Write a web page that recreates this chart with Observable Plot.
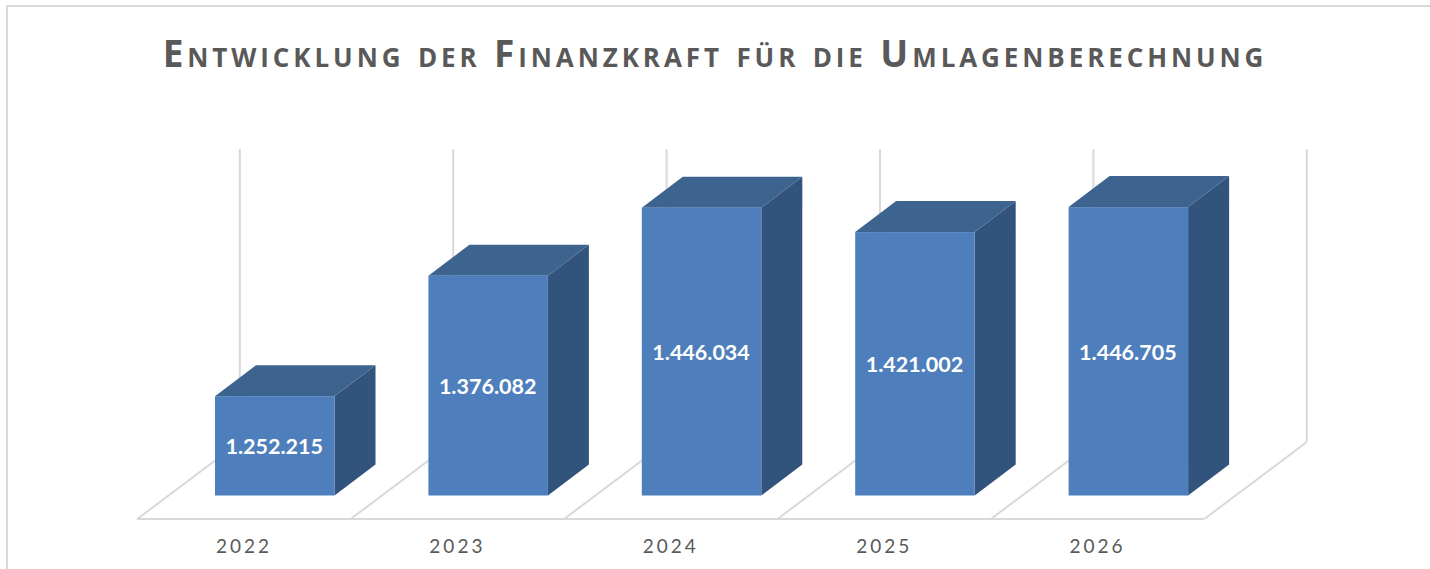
<!DOCTYPE html>
<html lang="de">
<head>
<meta charset="utf-8">
<script src="https://cdn.jsdelivr.net/npm/d3@7"></script>
<script src="https://cdn.jsdelivr.net/npm/@observablehq/plot@0.6"></script>
<style>
html,body{margin:0;padding:0;background:#fff;overflow:hidden}
#frame{position:absolute;left:6px;top:5px;width:1424px;height:564px;border-left:2px solid #d9d9d9;border-top:2px solid #d9d9d9;box-sizing:border-box}
#title{position:absolute;left:0;top:30px;width:1430px;text-align:center;font-family:"Open Sans",sans-serif;font-weight:700;color:#595959;font-size:37px;line-height:46px;white-space:nowrap;letter-spacing:3.9px}
#title .s{font-size:26px}
#chart{position:absolute;left:0;top:120px}
</style>
</head>
<body>
<div id="frame"></div>
<div id="title"></div>
<div id="chart"></div>
<script>
const years = [2022, 2023, 2024, 2025, 2026];
const values = [1252215, 1376082, 1446034, 1421002, 1446705];
const titleWords = ["Entwicklung", "der", "Finanzkraft", "für", "die", "Umlagenberechnung"];

const svgTop = 120, W = 1430, H = 449;
const fmt = d3.formatLocale({decimal: ",", thousands: ".", grouping: [3], currency: ["", ""]}).format(",d");

// title: small capitals built from real text
document.getElementById("title").innerHTML = titleWords.map(w => {
  const first = w[0] === w[0].toUpperCase();
  const up = w.toUpperCase();
  return (first ? up[0] + `<span class="s">${up.slice(1)}</span>` : `<span class="s">${up}</span>`);
}).join(" ");

// scale calibration
const base = 1150000;
const stepPx = 213.4, unitPx = 0.000972;
const x0Year = 2022 - 274.75 / stepPx;
const xDomain = [x0Year, x0Year + W / stepPx];
const yDomain = [base, 1500000];
const yRange = [495.5 - svgTop, 495.5 - svgTop - (1500000 - base) * unitPx];

// 3D offsets in data units
const halfW = 59.75 / stepPx, depthX = 41 / stepPx, depthY = 31 / unitPx;
const floorShift = 31.25 / stepPx;
const floorFront = base - 23 / unitPx;
const floorBack = base + 54 / unitPx;
const floorDX = 102.5 / stepPx;
const wallTop = base + 346.5 / unitPx;

const bars = years.map((year, i) => ({year, value: values[i]}));
const edges = [...years, years[years.length - 1] + 1].map(y => y - 0.5 - floorShift);

const sideData = bars.flatMap(d => [
  {year: d.year, x: d.year + halfW, y1: base, y2: d.value},
  {year: d.year, x: d.year + halfW + depthX, y1: base + depthY, y2: d.value + depthY}
]);
const topData = bars.flatMap(d => [
  {year: d.year, y: d.value, x1: d.year - halfW, x2: d.year + halfW},
  {year: d.year, y: d.value + depthY, x1: d.year - halfW + depthX, x2: d.year + halfW + depthX}
]);

const spaced = (index, scales, values, dimensions, context, next) => {
  const g = next(index, scales, values, dimensions, context);
  g.style.letterSpacing = "3px";
  return g;
};

const grid = "#d9d9d9";
const plot = Plot.plot({
  width: W, height: H,
  marginLeft: 0, marginRight: 0, marginTop: 0, marginBottom: 0,
  x: {type: "linear", domain: xDomain, range: [0, W], axis: null},
  y: {type: "linear", domain: yDomain, range: yRange, axis: null},
  marks: [
    Plot.ruleX(edges, {x: d => d + floorDX, y1: floorBack, y2: wallTop, stroke: grid, strokeWidth: 2}),
    Plot.link(edges, {x1: d => d, y1: floorFront, x2: d => d + floorDX, y2: floorBack, stroke: grid, strokeWidth: 2}),
    Plot.ruleY([floorFront], {x1: edges[0], x2: edges[edges.length - 1], stroke: grid, strokeWidth: 2}),
    Plot.areaY(sideData, {x: "x", y1: "y1", y2: "y2", z: "year", fill: "#32537b"}),
    Plot.areaX(topData, {y: "y", x1: "x1", x2: "x2", z: "year", fill: "#3d638f"}),
    Plot.rect(bars, {x1: d => d.year - halfW, x2: d => d.year + halfW, y1: base, y2: "value", fill: "#4e7fbc"}),
    Plot.text(bars, {x: "year", dx: -1, y: d => (d.value + base) / 2, dy: 1, text: d => fmt(d.value), fill: "white", fontSize: 21.5, fontWeight: 700, fontFamily: "Lato"}),
    Plot.text(bars, {x: d => d.year - floorShift, y: floorFront, dy: 28, text: d => String(d.year), fill: "#595959", fontSize: 19, fontFamily: "Lato", render: spaced})
  ]
});
document.getElementById("chart").appendChild(plot);
</script>
</body>
</html>
